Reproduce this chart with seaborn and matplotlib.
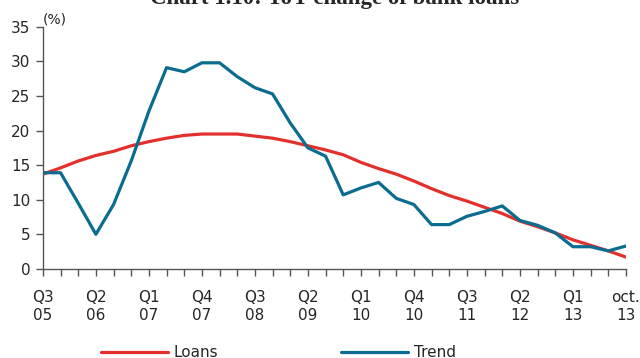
import matplotlib
matplotlib.use('Agg')
import matplotlib.pyplot as plt
import pandas as pd
import seaborn as sns

# quarterly values, Q3 2005 .. oct. 2013
loans = [13.7, 14.6, 15.6, 16.4, 17.0, 17.8, 18.4, 18.9, 19.3, 19.5,
         19.5, 19.5, 19.2, 18.9, 18.4, 17.8, 17.2, 16.5, 15.4, 14.5,
         13.7, 12.7, 11.6, 10.6, 9.8, 8.9, 8.0, 6.9, 6.1, 5.2,
         4.2, 3.4, 2.6, 1.7]
trend = [13.9, 13.9, 9.5, 5.0, 9.3, 15.6, 22.8, 29.1, 28.5, 29.8,
         29.8, 27.8, 26.2, 25.3, 21.1, 17.5, 16.3, 10.7, 11.7, 12.5,
         10.2, 9.3, 6.4, 6.4, 7.6, 8.3, 9.1, 7.0, 6.3, 5.2,
         3.2, 3.2, 2.6, 3.3]
tick_labels = ['Q3\n05', 'Q2\n06', 'Q1\n07', 'Q4\n07', 'Q3\n08', 'Q2\n09',
               'Q1\n10', 'Q4\n10', 'Q3\n11', 'Q2\n12', 'Q1\n13', 'oct.\n13']

n = len(loans)
df = pd.DataFrame({
    'quarter': list(range(n)) * 2,
    'value': loans + trend,
    'series': ['Loans'] * n + ['Trend'] * n,
})

sns.set_style('white')
plt.rcParams['font.family'] = ['DejaVu Sans']

fig = plt.figure(figsize=(6.4, 3.58), dpi=100)
ax = fig.add_axes([0.067, 0.249, 0.911, 0.676])

sns.lineplot(data=df, x='quarter', y='value', hue='series',
             palette={'Loans': '#E4302C', 'Trend': '#0A6D8F'},
             linewidth=2.3, ax=ax, legend=False)

ax.set_xlim(0, n - 1)
ax.set_ylim(0, 35)
ax.set_yticks(range(0, 36, 5))
ax.set_xticks(range(0, n), minor=True)
ax.set_xticks(range(0, n, 3))
ax.set_xticklabels(tick_labels, linespacing=1.25)
ax.set_xlabel('')
ax.set_ylabel('')

for s in ['top', 'right']:
    ax.spines[s].set_visible(False)
for s in ['left', 'bottom']:
    ax.spines[s].set_color('#555555')
    ax.spines[s].set_linewidth(1.0)

ax.tick_params(axis='both', which='both', direction='out', length=5,
               width=1.0, color='#555555', labelsize=11, bottom=True, left=True)
ax.tick_params(axis='x', pad=10)
ax.tick_params(axis='y', pad=4)

ax.text(0.0, 1.0, '(%)', transform=ax.transAxes, fontsize=10,
        ha='left', va='bottom')

fig.text(0.522, 1.003, 'Chart 1.10: YoY change of bank loans',
         ha='center', va='center', fontsize=16.5, fontweight='bold',
         family='Liberation Serif')

h1, = ax.plot([], [], color='#E4302C', lw=2.3, label='Loans')
h2, = ax.plot([], [], color='#0A6D8F', lw=2.3, label='Trend')
fig.legend(handles=[h1, h2], loc='lower center', ncol=2,
           bbox_to_anchor=(0.435, -0.045), frameon=False, fontsize=11,
           handlelength=4.4, columnspacing=8.0, handletextpad=0.4)

fig.savefig('out.png', dpi=100)
